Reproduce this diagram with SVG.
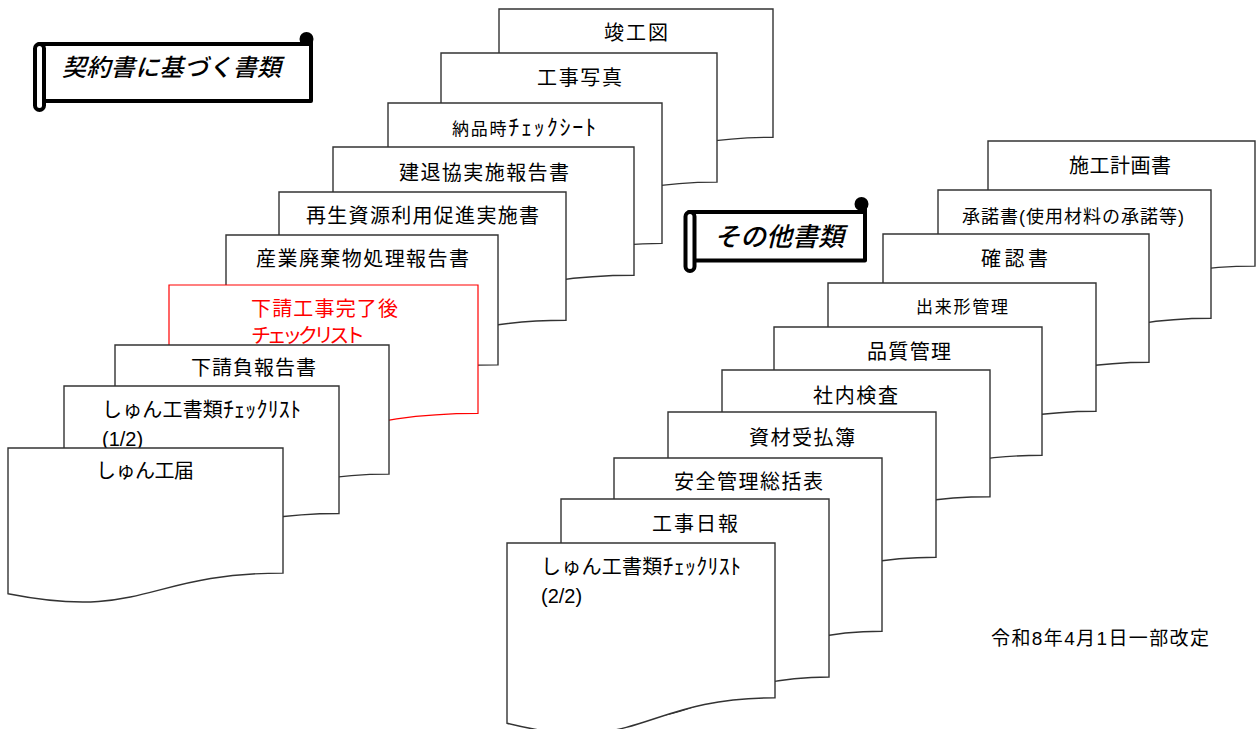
<svg xmlns="http://www.w3.org/2000/svg" width="1259" height="729" viewBox="0 0 1259 729">
<style>
.doc{fill:#fff;stroke:#333;stroke-width:1.4;stroke-linejoin:miter}
.red{fill:#fff;stroke:#ff0000;stroke-width:1.2}
.t{font-family:'Liberation Sans','Noto Sans CJK JP',sans-serif;font-size:20px;fill:#000}
.s16{font-size:17px}
.s17{font-size:18px}
.rt{fill:#ff0000}
.ban{font-family:'Noto Sans CJK JP',sans-serif;font-style:italic;font-weight:500;fill:#000}
.sc{fill:#fff;stroke:#000;stroke-width:4;stroke-linejoin:round}
</style>
<rect width="1259" height="729" fill="#fff"/>

<!-- Left stack -->
<g id="doc-shunkouzu">
<path class="doc" d="M499,9 H773 V137.3 C636,137.3 636,186.2 499,158.4 Z"/>
<text class="t" x="604" y="40" textLength="64" lengthAdjust="spacing">竣工図</text>
</g>
<g id="doc-koujishashin">
<path class="doc" d="M441,53 H717 V182.1 C579,182.1 579,231.3 441,203.4 Z"/>
<text class="t" x="537" y="84.5" textLength="85" lengthAdjust="spacing">工事写真</text>
</g>
<g id="doc-nouhin">
<path class="doc" d="M388,103 H662 V243.4 C525,243.4 525,296.8 388,266.5 Z"/>
<text class="t s16" x="452" y="134.5" textLength="144" lengthAdjust="spacing">納品時<tspan style="font-size:22px">ﾁｪｯｸｼｰﾄ</tspan></text>
</g>
<g id="doc-kentaikyo">
<path class="doc" d="M333,147 H634 V275.3 C483.5,275.3 483.5,324.2 333,296.4 Z"/>
<text class="t" x="399" y="179.5" textLength="170" lengthAdjust="spacing">建退協実施報告書</text>
</g>
<g id="doc-saisei">
<path class="doc" d="M279,192 H566 V320.3 C422.5,320.3 422.5,369.2 279,341.4 Z"/>
<text class="t" x="306" y="222.5" textLength="233" lengthAdjust="spacing">再生資源利用促進実施書</text>
</g>
<g id="doc-sangyou">
<path class="doc" d="M226,235 H498 V364.9 C362,364.9 362,414.4 226,386.3 Z"/>
<text class="t" x="256" y="265.5" textLength="213" lengthAdjust="spacing">産業廃棄物処理報告書</text>
</g>
<g id="doc-shitauke-check">
<path class="red" d="M169,285 H478 V413.3 C323.5,413.3 323.5,462.2 169,434.4 Z"/>
<text class="t rt" x="251" y="315.5" textLength="147" lengthAdjust="spacing">下請工事完了後</text>
<text class="t rt" x="251" y="342.5" textLength="114" lengthAdjust="spacing">チェックリスト</text>
</g>
<g id="doc-shitaukeoi">
<path class="doc" d="M115,345 H389 V474.1 C252,474.1 252,523.3 115,495.4 Z"/>
<text class="t" x="191" y="374.5" textLength="125" lengthAdjust="spacing">下請負報告書</text>
</g>
<g id="doc-check1">
<path class="doc" d="M64,386 H339 V513.5 C201.5,513.5 201.5,562.1 64,534.5 Z"/>
<text class="t" x="102" y="416.5" textLength="199" lengthAdjust="spacing">しゅん工書類<tspan style="font-size:22px">ﾁｪｯｸﾘｽﾄ</tspan></text>
<text class="t" x="102" y="445.5">(1/2)</text>
</g>
<g id="doc-todoke">
<path class="doc" d="M8,448 H283 V573.1 C145.5,573.1 145.5,620.8 8,593.7 Z"/>
<text class="t" x="96" y="477.5" textLength="98" lengthAdjust="spacing">しゅん工届</text>
</g>

<!-- Right stack -->
<g id="doc-sekou">
<path class="doc" d="M988,141 H1255 V266.1 C1121.5,266.1 1121.5,313.8 988,286.7 Z"/>
<text class="t" x="1069" y="172.5" textLength="102" lengthAdjust="spacing">施工計画書</text>
</g>
<g id="doc-shoudaku">
<path class="doc" d="M938,190 H1211 V318.3 C1074.5,318.3 1074.5,367.2 938,339.4 Z"/>
<text class="t s17" x="962" y="223" textLength="222" lengthAdjust="spacing">承諾書(使用材料の承諾等)</text>
</g>
<g id="doc-kakunin">
<path class="doc" d="M883,234 H1149 V362.3 C1016,362.3 1016,411.2 883,383.4 Z"/>
<text class="t" x="981" y="265.5" textLength="67" lengthAdjust="spacing">確認書</text>
</g>
<g id="doc-dekigata">
<path class="doc" d="M828,283 H1096 V411.3 C962,411.3 962,460.2 828,432.4 Z"/>
<text class="t s16" x="916" y="312.5" textLength="92" lengthAdjust="spacing">出来形管理</text>
</g>
<g id="doc-hinshitsu">
<path class="doc" d="M774,327 H1042 V455.3 C908,455.3 908,504.2 774,476.4 Z"/>
<text class="t" x="867" y="358.5" textLength="84" lengthAdjust="spacing">品質管理</text>
</g>
<g id="doc-shanai">
<path class="doc" d="M722,370 H990 V496.7 C856,496.7 856,545 722,517.6 Z"/>
<text class="t" x="813" y="402.5" textLength="85" lengthAdjust="spacing">社内検査</text>
</g>
<g id="doc-shizai">
<path class="doc" d="M668,412 H936 V557.2 C802,557.2 802,612.5 668,581.1 Z"/>
<text class="t" x="749" y="444.5" textLength="106" lengthAdjust="spacing">資材受払簿</text>
</g>
<g id="doc-anzen">
<path class="doc" d="M614,458 H882 V631.2 C748,631.2 748,697.2 614,659.7 Z"/>
<text class="t" x="674" y="488.5" textLength="149" lengthAdjust="spacing">安全管理総括表</text>
</g>
<g id="doc-nippou">
<path class="doc" d="M561,499 H829 V677 C695,677 695,744.9 561,706.3 Z"/>
<text class="t" x="652" y="530.5" textLength="86" lengthAdjust="spacing">工事日報</text>
</g>
<g id="doc-check2">
<path class="doc" d="M507,543 H775 V697.8 C641,697.8 641,756.7 507,723.3 Z"/>
<text class="t" x="541" y="573.5" textLength="200" lengthAdjust="spacing">しゅん工書類<tspan style="font-size:22px">ﾁｪｯｸﾘｽﾄ</tspan></text>
<text class="t" x="541" y="602.5">(2/2)</text>
</g>

<!-- Banners -->
<g id="banner-keiyaku">
<rect class="sc" x="39" y="44" width="272" height="57"/>
<line x1="311" y1="38" x2="311" y2="101" stroke="#000" stroke-width="4"/>
<circle cx="306.5" cy="39" r="7" fill="#000"/>
<rect class="sc" x="35" y="44" width="9" height="66" rx="4.5"/>
<text class="ban" x="62" y="76" font-size="24" textLength="219" lengthAdjust="spacing">契約書に基づく書類</text>
</g>
<g id="banner-sonota">
<rect class="sc" x="689" y="212" width="176" height="48.5"/>
<line x1="865" y1="203" x2="865" y2="260.5" stroke="#000" stroke-width="4"/>
<circle cx="861.5" cy="204" r="7" fill="#000"/>
<rect class="sc" x="685.5" y="212" width="9" height="59" rx="4.5"/>
<text class="ban" x="714" y="245.5" font-size="26" textLength="130" lengthAdjust="spacing">その他書類</text>
</g>

<g id="note-revision">
<text class="t" x="991" y="645" style="font-size:19px" textLength="218" lengthAdjust="spacing">令和8年4月1日一部改定</text>
</g>
</svg>
